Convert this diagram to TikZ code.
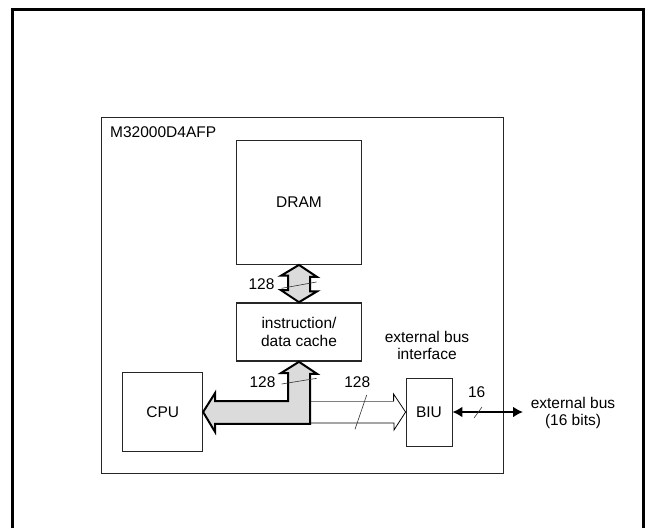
\documentclass[tikz,border=0pt]{standalone}
\usepackage{fontspec}
\setmainfont{Liberation Sans}
\usetikzlibrary{positioning,arrows.meta}

\begin{document}
\begin{tikzpicture}[x=1pt,y=-1pt,node distance=129.5pt,on grid,
	block/.style={draw=black!85,line width=0.8pt,inner sep=0pt,align=center,font=\fontsize{15.5}{18}\selectfont},
	lbl/.style={inner sep=0pt,align=center,font=\fontsize{15.5}{17.7}\selectfont},
	bus/.style={draw=black,line width=2pt,fill=black!14},
	tick/.style={draw=black!80,line width=0.6pt}]
\useasboundingbox (0,0) rectangle (648,528);
\draw[line width=3pt] (12.5,528) -- (12.5,9) -- (643.5,9) -- (643.5,528);

\node[block,minimum width=402pt,minimum height=356pt]						(chip)		at (302,295)		{};
\node[lbl,anchor=base west]													(chipname)	at (110,137)		{M32000D4AFP};
\node[block,minimum width=125pt,minimum height=124pt]						(dram)		at (299,202.5)		{DRAM};
\node[block,line width=1.6pt,minimum width=125pt,minimum height=58pt]		(cache)		[below=of dram]		{instruction/\\data cache};
\node[block,minimum width=80pt,minimum height=79pt]							(cpu)		at (162.7,412)		{CPU};
\node[block,minimum width=46pt,minimum height=68pt]							(biu)		at (429,412)		{BIU};
\node[lbl]																	(biulbl)	at (427,345.5)		{external bus\\interface};
\node[lbl]																	(xbus)		at (573,413)		{external bus\\(16 bits)};
\coordinate																	(fork)		at (310,412);
\coordinate																	(xend)		at (523,412);

% DRAM <-> cache
\draw[bus] (dram.south) -- ++(18,12) -- ++(-7,0) -- ++(0,14.5) -- ++(7,0) -- (cache.north)
	-- ++(-18,-12) -- ++(7,0) -- ++(0,-14.5) -- ++(-7,0) -- cycle;

% cache -> BIU
\draw[gray,line width=0.8pt] (fork) ++(0,-11) -- ++(84,0);
\draw[line width=0.8pt] (fork) ++(0,11) -- ++(84,0) -- ++(0,7) -- (biu.west) -- ++(-12,-18) -- ++(0,7);

% cache <-> CPU
\draw[bus] (cache.south) -- ++(18,12) -- ++(-7,0) -- ++(0,50) -- ++(-95,0) -- ++(0,8) -- (cpu.east)
	-- ++(12,-19) -- ++(0,8) -- ++(73,0) -- ++(0,-28) -- ++(-7,0) -- cycle;

% BIU <-> external bus
\draw[{Latex[length=10pt,width=11pt]}-{Latex[length=10pt,width=11pt]},line width=2.5pt] (biu.east) -- (xend);

% bus widths
\draw[tick] (281.7,288.3) -- (316.5,282);
\draw[tick] (281.7,384) -- (316.7,378.3);
\draw[tick] (355,429.3) -- (366.7,395);
\draw[tick] (474,418) -- (482,407);
\node[lbl]	(w_dram)	at (261.5,284)		{128};
\node[lbl]	(w_cpu)		at (262.5,381.7)	{128};
\node[lbl]	(w_biu)		at (357.3,381.7)	{128};
\node[lbl]	(w_ext)		at (476.7,392.3)	{16};
\end{tikzpicture}
\end{document}
